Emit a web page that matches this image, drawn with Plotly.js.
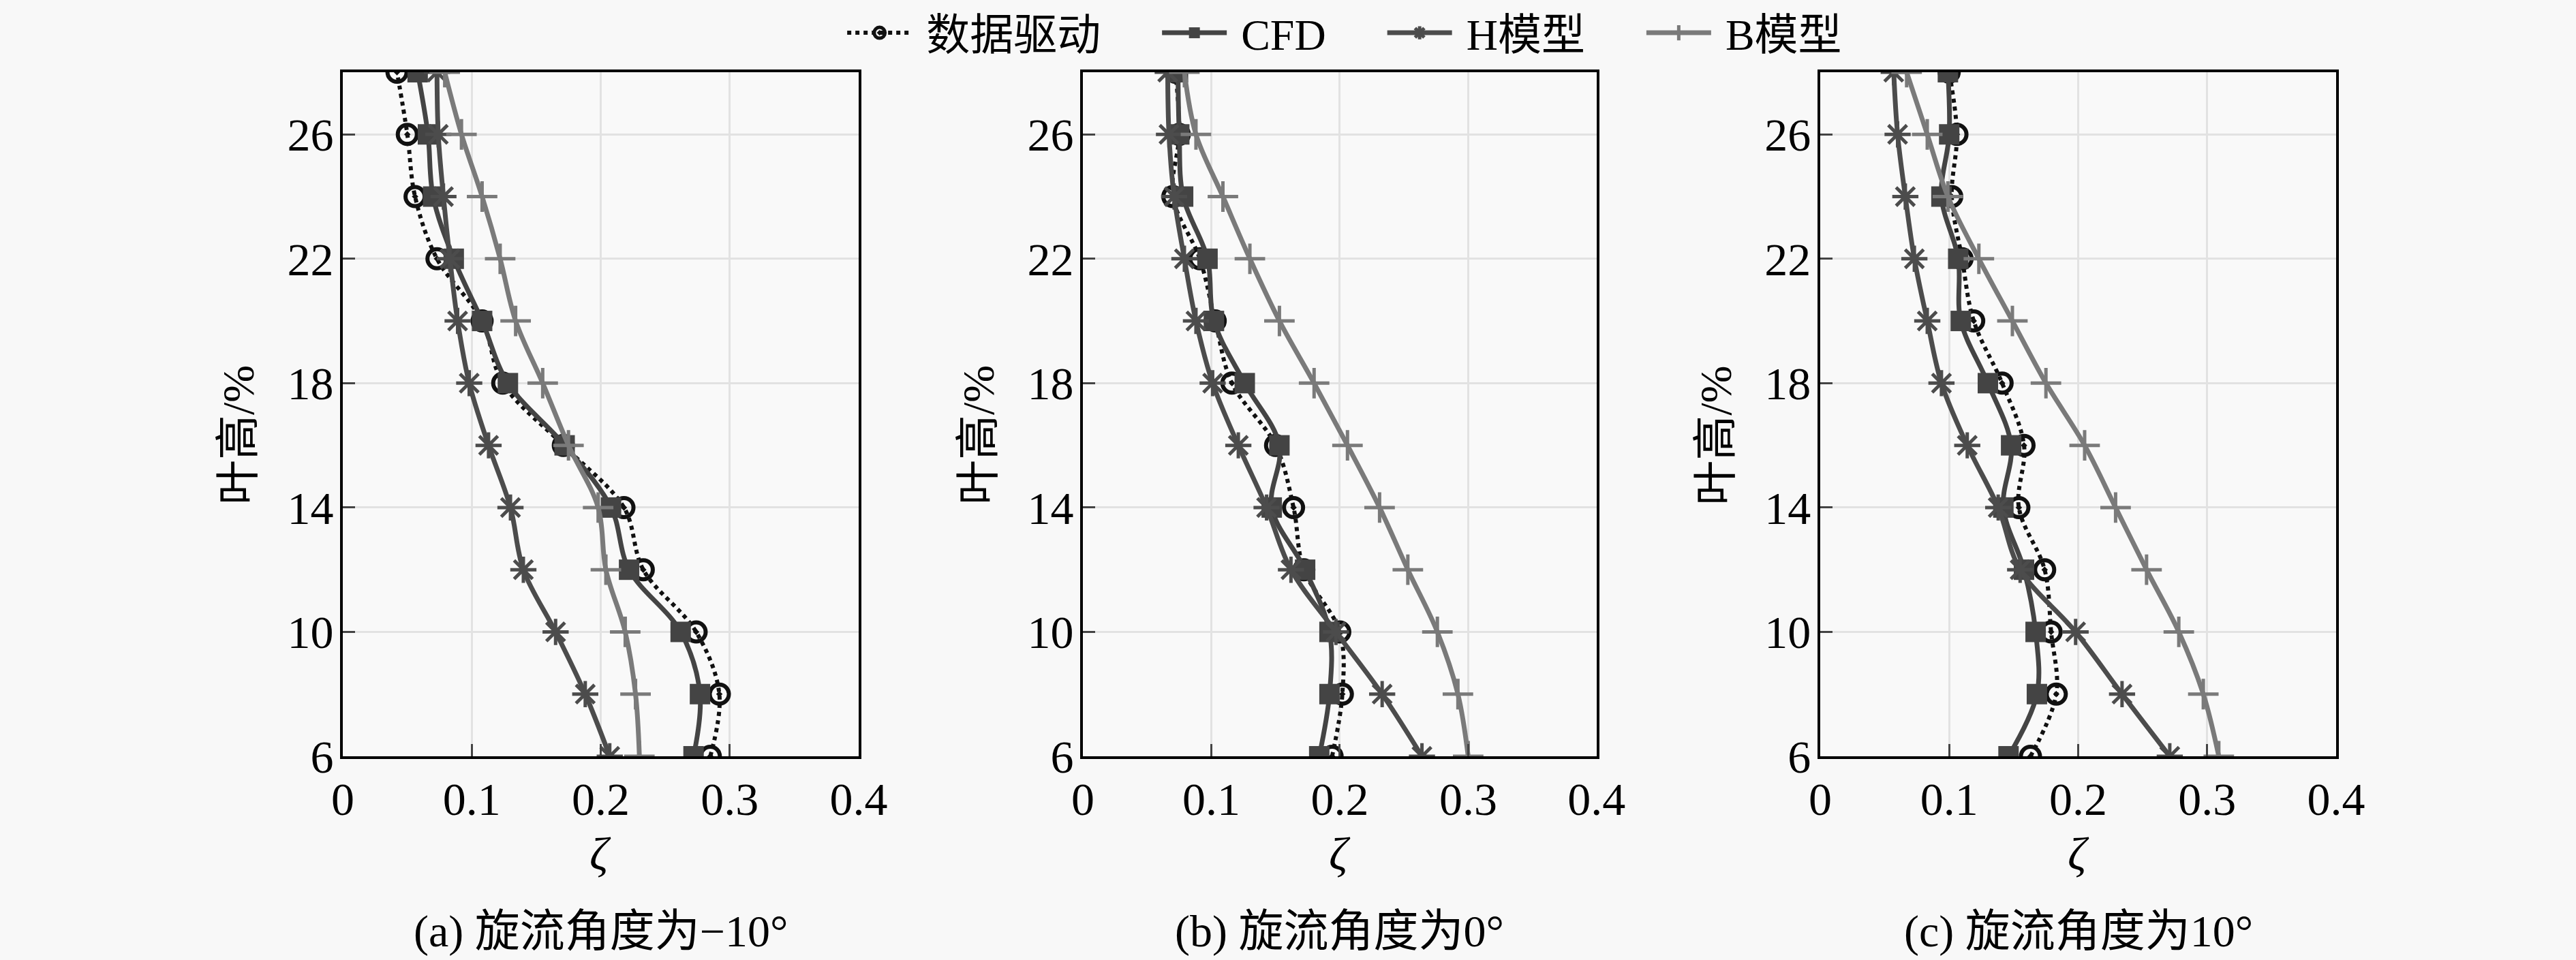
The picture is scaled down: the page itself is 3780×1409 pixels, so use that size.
<!DOCTYPE html>
<html>
<head>
<meta charset="utf-8">
<script src="https://cdn.plot.ly/plotly-3.0.1.min.js"></script>
<style>
  html, body { margin: 0; padding: 0; background: #f8f8f8; }
  #chart { width: 3780px; height: 1409px; }
</style>
</head>
<body>
<div id="chart"></div>
<script>
// blade height (%) shared by all three panels
var heights = [6, 8, 10, 12, 14, 16, 18, 20, 22, 24, 26, 28];

// (a) swirl angle -10
var dataA = [0.285, 0.292, 0.274, 0.233, 0.218, 0.171, 0.124, 0.108, 0.073, 0.056, 0.050, 0.042];
var cfdA  = [0.272, 0.277, 0.262, 0.222, 0.208, 0.172, 0.128, 0.108, 0.086, 0.070, 0.066, 0.058];
var hA    = [0.207, 0.188, 0.165, 0.140, 0.130, 0.113, 0.098, 0.089, 0.083, 0.078, 0.074, 0.073];
var bA    = [0.230, 0.227, 0.219, 0.204, 0.198, 0.175, 0.155, 0.134, 0.122, 0.108, 0.092, 0.079];

// (b) swirl angle 0
var dataB = [0.194, 0.202, 0.200, 0.172, 0.164, 0.150, 0.116, 0.103, 0.091, 0.070, 0.075, 0.072];
var cfdB  = [0.184, 0.192, 0.192, 0.173, 0.147, 0.153, 0.126, 0.102, 0.097, 0.078, 0.075, 0.074];
var hB    = [0.264, 0.233, 0.197, 0.162, 0.143, 0.121, 0.101, 0.088, 0.079, 0.071, 0.067, 0.066];
var bB    = [0.300, 0.292, 0.276, 0.253, 0.231, 0.206, 0.180, 0.153, 0.130, 0.109, 0.088, 0.079];

// (c) swirl angle 10
var dataC = [0.163, 0.183, 0.179, 0.174, 0.154, 0.158, 0.141, 0.119, 0.110, 0.102, 0.106, 0.100];
var cfdC  = [0.146, 0.168, 0.167, 0.158, 0.142, 0.148, 0.130, 0.109, 0.107, 0.094, 0.100, 0.099];
var hC    = [0.271, 0.234, 0.198, 0.155, 0.138, 0.114, 0.094, 0.083, 0.073, 0.066, 0.060, 0.057];
var bC    = [0.309, 0.297, 0.278, 0.253, 0.229, 0.205, 0.175, 0.149, 0.123, 0.099, 0.083, 0.067];

var names = ['数据驱动', 'CFD', 'H模型', 'B模型'];
var captions = ['(a) 旋流角度为\u221210°', '(b) 旋流角度为0°', '(c) 旋流角度为10°'];
var xTicks = [0, 0.1, 0.2, 0.3, 0.4];
var yTicks = [6, 10, 14, 18, 22, 26];

var FONT = 'Liberation Serif, Noto Sans CJK SC, serif';
var NB = '\u00a0';
var panels = [[dataA, cfdA, hA, bA], [dataB, cfdB, hB, bB], [dataC, cfdC, hC, bC]];
var domains = [[0.1331, 0.3333], [0.4204, 0.6198], [0.7066, 0.9069]];

function styleFor(k) {
  if (k == 0) return {
    line: {color: '#111', width: 6, dash: 'dot', shape: 'spline'},
    marker: {symbol: 'circle-open-dot', size: 28, color: '#111', line: {width: 6, color: '#111'}}
  };
  if (k == 1) return {
    line: {color: '#444', width: 7, shape: 'spline'},
    marker: {symbol: 'square', size: 30, color: '#444'}
  };
  if (k == 2) return {
    line: {color: '#4c4c4c', width: 7, shape: 'spline'},
    marker: {symbol: 'asterisk-open', size: 32, color: '#4c4c4c', line: {width: 5, color: '#4c4c4c'}}
  };
  return {
    line: {color: '#7a7a7a', width: 7, shape: 'spline'},
    marker: {symbol: 'cross-thin-open', size: 32, color: '#7a7a7a', line: {width: 5, color: '#7a7a7a'}}
  };
}

var data = [];
var layout = {
  width: 3780, height: 1409,
  margin: {l: 0, r: 0, t: 0, b: 0},
  paper_bgcolor: '#f8f8f8',
  plot_bgcolor: '#f9f9f9',
  font: {family: FONT, size: 66, color: '#000'},
  showlegend: true,
  legend: {orientation: 'h', x: 0.522, xanchor: 'center', y: 1, yanchor: 'top',
           font: {family: FONT, size: 64}, bgcolor: 'rgba(0,0,0,0)', itemwidth: 95, tracegroupgap: 0},
  annotations: []
};

for (var p = 0; p < 3; p++) {
  var sfx = p == 0 ? '' : String(p + 1);
  for (var k = 0; k < 4; k++) {
    var s = styleFor(k);
    data.push({
      x: panels[p][k], y: heights, type: 'scatter', mode: 'lines+markers',
      name: NB + names[k] + (k < 3 ? NB + NB + NB + NB + NB : ''),
      legendgroup: names[k], showlegend: p == 0,
      xaxis: 'x' + sfx, yaxis: 'y' + sfx,
      line: s.line, marker: s.marker
    });
  }
  var ax = {
    domain: domains[p], range: [0, 0.4], tickvals: xTicks, ticks: 'inside', ticklen: 18, tickwidth: 3,
    showline: true, linewidth: 4, linecolor: '#000', mirror: true, zeroline: false,
    showgrid: true, gridcolor: '#e2e2e2', gridwidth: 3, tickfont: {family: FONT, size: 68},
    anchor: 'y' + sfx
  };
  var ay = {
    domain: [0.2122, 0.9248], range: [6, 28], tickvals: yTicks, ticks: 'inside', ticklen: 18, tickwidth: 3,
    showline: true, linewidth: 4, linecolor: '#000', mirror: true, zeroline: false,
    showgrid: true, gridcolor: '#e2e2e2', gridwidth: 3, tickfont: {family: FONT, size: 68},
    ticklabelstandoff: -4, anchor: 'x' + sfx
  };
  layout['xaxis' + sfx] = ax;
  layout['yaxis' + sfx] = ay;

  var mid = (domains[p][0] + domains[p][1]) / 2;
  layout.annotations.push({
    text: '<i>ζ</i>', xref: 'paper', yref: 'paper', x: mid, y: 0.111,
    xanchor: 'center', yanchor: 'middle', showarrow: false, font: {family: FONT, size: 68}
  });
  layout.annotations.push({
    text: captions[p], xref: 'paper', yref: 'paper', x: mid, y: 0.03,
    xanchor: 'center', yanchor: 'middle', showarrow: false, font: {family: FONT, size: 66}
  });
  layout.annotations.push({
    text: '叶高/%', xref: 'paper', yref: 'paper', x: domains[p][0] - 0.0405, y: 0.5465,
    xanchor: 'center', yanchor: 'middle', textangle: -90, showarrow: false, font: {family: FONT, size: 66}
  });
}

Plotly.newPlot('chart', data, layout, {staticPlot: true});
</script>
</body>
</html>
